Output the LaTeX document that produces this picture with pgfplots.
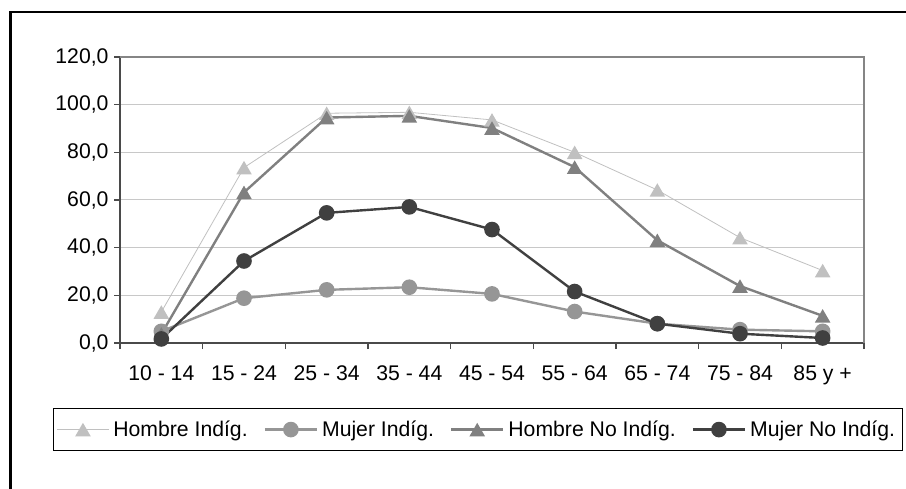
\documentclass[border=0pt]{standalone}
\usepackage{fontspec}
\setmainfont{Liberation Sans}
\usepackage{pgfplots}
\pgfplotsset{compat=1.18}

\definecolor{cHI}{HTML}{C0C0C0}
\definecolor{cMI}{HTML}{969696}
\definecolor{cHN}{HTML}{808080}
\definecolor{cMN}{HTML}{404040}
\definecolor{grd}{HTML}{C8C8C8}
\definecolor{frm}{HTML}{858585}
\definecolor{axl}{HTML}{4A4A4A}

% triangle centred on its bounding box
\pgfdeclareplotmark{tri}{%
  \pgfpathmoveto{\pgfqpoint{0pt}{0.75\pgfplotmarksize}}%
  \pgfpathlineto{\pgfqpoint{-0.866\pgfplotmarksize}{-0.75\pgfplotmarksize}}%
  \pgfpathlineto{\pgfqpoint{0.866\pgfplotmarksize}{-0.75\pgfplotmarksize}}%
  \pgfpathclose
  \pgfusepathqfill}

\begin{document}
\begin{tikzpicture}[font=\fontsize{21.2bp}{25bp}\selectfont]
\useasboundingbox (0,0) rectangle (906bp,489bp);
% outer frame (left and top edges)
\draw[black, line width=2.5bp] (10.3bp,-2bp) -- (10.3bp,477bp) -- (908bp,477bp);

\begin{axis}[
  at={(120bp,146bp)}, anchor=south west,
  scale only axis, width=744bp, height=286bp,
  xmin=0.5, xmax=9.5, ymin=0, ymax=120,
  axis lines=left,
  axis line style={-, draw=axl, line width=2bp},
  clip=false,
  xtick={1,...,9},
  xticklabels={10 - 14,15 - 24,25 - 34,35 - 44,45 - 54,55 - 64,65 - 74,75 - 84,85 y +},
  minor xtick={0.5,1.5,...,9.5},
  major x tick style={draw=none},
  ytick={0,20,...,120},
  tick align=outside,
  major tick length=6bp, minor tick length=6bp,
  tick style={draw=axl, line width=1.3bp},
  ymajorgrids, major grid style={draw=grd, line width=1bp},
  /pgf/number format/assume math mode=true,
  xticklabel style={yshift=-13bp},
  yticklabel style={xshift=-2bp, /pgf/number format/.cd, fixed, fixed zerofill, precision=1, use comma, 1000 sep={}},
  legend columns=4,
  legend style={at={(-0.0901,-0.2270)}, anchor=north west,
    draw=black, line width=1.2bp, inner xsep=3bp, inner ysep=9.5bp,
    nodes={inner xsep=4bp, inner ysep=3bp},
    /tikz/every even column/.append style={column sep=12bp}},
  legend image code/.code={\draw[mark repeat=2,mark phase=2] plot coordinates {(0bp,0bp) (26bp,0bp) (52bp,0bp)};},
]
\addplot[cHI, line width=0.8bp, mark=tri, mark size=9bp] coordinates {
  (1,13.0) (2,73.6) (3,96.4) (4,96.8) (5,93.6) (6,80.0) (7,64.2) (8,44.2) (9,30.4)};
\addlegendentry{Hombre Indíg.}
\addplot[cMI, line width=2.4bp, mark=*, mark size=6.6bp] coordinates {
  (1,4.9) (2,18.8) (3,22.3) (4,23.4) (5,20.6) (6,13.2) (7,8.1) (8,5.6) (9,4.9)};
\addlegendentry{Mujer Indíg.}
\addplot[cHN, line width=2.4bp, mark=tri, mark size=9bp] coordinates {
  (1,3.8) (2,63.2) (3,94.6) (4,95.3) (5,90.2) (6,73.8) (7,43.1) (8,23.9) (9,11.4)};
\addlegendentry{Hombre No Indíg.}
\addplot[cMN, line width=2.4bp, mark=*, mark size=6.6bp] coordinates {
  (1,1.7) (2,34.4) (3,54.6) (4,57.1) (5,47.6) (6,21.6) (7,8.1) (8,3.9) (9,2.1)};
\addlegendentry{Mujer No Indíg.}

% top and right border of the plot area
\draw[frm, line width=2.5bp] (rel axis cs:0,1) -- (rel axis cs:1,1) -- (rel axis cs:1,0);
\end{axis}
\end{tikzpicture}
\end{document}
